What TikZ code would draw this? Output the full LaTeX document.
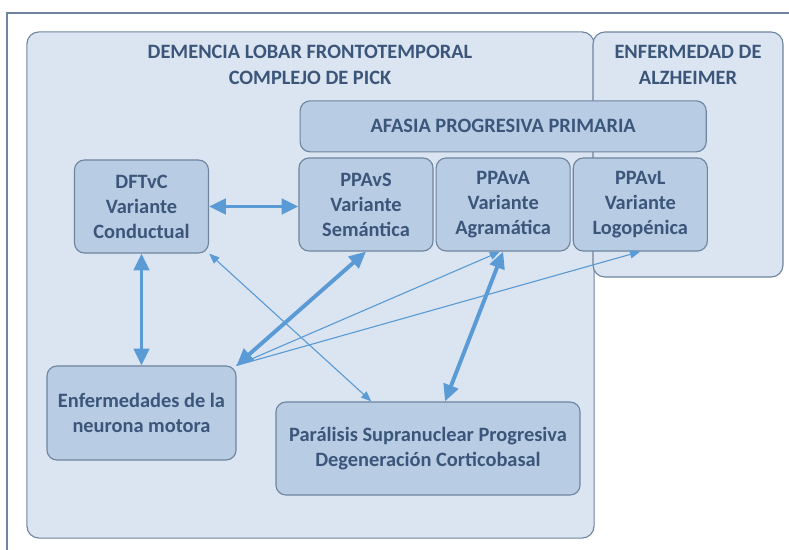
\documentclass[tikz,border=0pt]{standalone}
\usepackage{fontspec}
\setmainfont{Carlito}
\usetikzlibrary{positioning,calc,arrows.meta}
\definecolor{fondo}{HTML}{DBE5F1}
\definecolor{relleno}{HTML}{B8CCE4}
\definecolor{borde}{HTML}{6F849F}
\definecolor{texto}{HTML}{3B567A}
\definecolor{flecha}{HTML}{5B9BD5}

\begin{document}
\begin{tikzpicture}[x=0.025cm, y=-0.025cm, node distance=0.05cm,
grupo/.style ={rectangle, rounded corners=0.3cm, draw=borde,
  fill=fondo, line width=0.8pt},
vble/.style ={rectangle, rounded corners=0.25cm, draw=borde,
  fill=relleno, line width=0.8pt, text=texto, align=center,
  font=\bfseries\fontsize{14.5}{17.8}\selectfont,
  minimum width=3.35cm, minimum height=2.325cm, inner sep=2pt},
titulo/.style ={text=texto, align=center,
  font=\bfseries\fontsize{14.5}{18.4}\selectfont},
gruesa/.style ={draw=flecha, line width=2.8pt,
  {Triangle[length=0.42cm,width=0.38cm]}-{Triangle[length=0.42cm,width=0.38cm]}},
fina/.style ={draw=flecha, line width=0.8pt,
  -{Triangle[length=0.26cm,width=0.2cm]}},
finadoble/.style ={draw=flecha, line width=0.8pt,
  {Triangle[length=0.26cm,width=0.2cm]}-{Triangle[length=0.26cm,width=0.2cm]}}
]
\useasboundingbox (0,0) rectangle (789,550);
\draw[borde, line width=1pt] (7,550) -- (7,13) -- (789,13);

% grupos
\node[grupo, minimum width=14.175cm, minimum height=12.65cm] (dlft) at (310.5,285) {};
\node[grupo, minimum width=4.75cm, minimum height=6.125cm] (alz) at (688,154.5) {};
\node[titulo] (tdlft) at (310,65) {DEMENCIA LOBAR FRONTOTEMPORAL\\COMPLEJO DE PICK};
\node[titulo] (talz) at (688,65) {ENFERMEDAD DE\\ALZHEIMER};

% afasias
\node[vble] (ppavs) at (366,204.5) {PPAvS\\Variante\\Semántica};
\node[vble] (ppava) [right=of ppavs] {PPAvA\\Variante\\Agramática};
\node[vble] (ppavl) [right=of ppava] {PPAvL\\Variante\\Logopénica};
\node[vble, minimum width=10.15cm, minimum height=1.275cm] (app)
  [above=0.125cm of ppava] {AFASIA PROGRESIVA PRIMARIA};

\node[vble] (dftvc) at (141.5,206.5) {DFTvC\\Variante\\Conductual};
\node[vble, minimum width=4.725cm, minimum height=2.35cm] (enm) at (141.5,413)
  {Enfermedades de la\\neurona motora};
\node[vble, minimum width=7.6cm] (psp) at (428,448.5)
  {Parálisis Supranuclear Progresiva\\Degeneración Corticobasal};

% flechas
\draw[gruesa] (dftvc.east) -- (dftvc.east -| ppavs.west);
\draw[gruesa] (dftvc) -- (enm);
\draw[gruesa] (enm.north east) -- (ppavs.south);
\draw[gruesa] (ppava.south) -- ($(psp.north)+(17,0)$);
\draw[finadoble] (dftvc.south east) -- ($(psp.north west)+(96,0)$);
\draw[fina] (enm.north east) -- ($(ppava.south)+(-3,0)$);
\draw[fina] (enm.north east) -- (ppavl.south);
\end{tikzpicture}
\end{document}
